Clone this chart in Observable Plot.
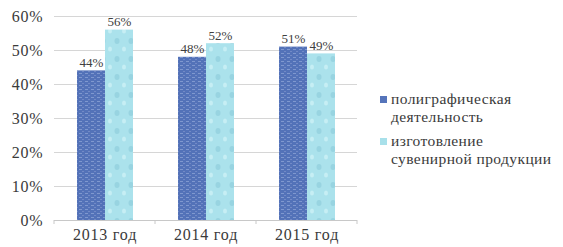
<!DOCTYPE html>
<html><head><meta charset="utf-8">
<script src="https://cdn.jsdelivr.net/npm/d3@7"></script>
<script src="https://cdn.jsdelivr.net/npm/@observablehq/plot@0.6"></script>
<style>
body{margin:0;background:#fff;}
#wrap{position:relative;width:563px;height:247px;font-family:"Liberation Serif","Times New Roman","DejaVu Serif",serif;}
#wrap svg, #wrap svg text{font-family:"Liberation Serif","Times New Roman","DejaVu Serif",serif !important;}
#legend{position:absolute;left:380px;top:90px;font-size:15.5px;letter-spacing:0.4px;color:#3a3a3a;line-height:18px;font-family:"Liberation Serif","DejaVu Serif",serif !important;}
.item{position:relative;padding-left:11px;margin-bottom:6px;}
.sw{position:absolute;left:0;top:6px;width:7px;height:7px;}
</style></head>
<body><div id="wrap"><div id="legend"></div></div>
<script>
const years = ["2013 год", "2014 год", "2015 год"];
const series = ["полиграфическая деятельность", "изготовление сувенирной продукции"];
const legendLines = [["полиграфическая", "деятельность"], ["изготовление", "сувенирной продукции"]];
const printing = [44, 48, 51];
const souvenirs = [56, 52, 49];
const yTicks = [0, 10, 20, 30, 40, 50, 60];
const colors = ["#5574ba", "#a8e0ea"];
const fills = ["url(#texDark)", "url(#texLight)"];
const FONT = "'Liberation Serif', 'Times New Roman', 'DejaVu Serif', serif";

const data = [];
years.forEach((y, i) => {
  data.push({year: y, s: series[0], v: printing[i]});
  data.push({year: y, s: series[1], v: souvenirs[i]});
});

const plot = Plot.plot({
  width: 563, height: 247,
  marginLeft: 53, marginRight: 205, marginTop: 16, marginBottom: 27,
  style: {fontFamily: FONT, background: "#fff", color: "#3a3a3a"},
  fx: {domain: years, padding: 0, label: null, axis: null},
  x: {domain: series, paddingInner: 0, paddingOuter: 0.76, axis: null},
  y: {domain: [0, 60], label: null, axis: null},
  color: {domain: series, range: fills},
  marks: [
    Plot.ruleY(yTicks.filter(d => d > 0), {stroke: "#d6d6d6", strokeWidth: 1}),
    Plot.ruleY([0], {stroke: "#c8c8c8", strokeWidth: 1}),
    Plot.barY(data, {fx: "year", x: "s", y: "v", fill: "s"}),
    Plot.text(data, {fx: "year", x: "s", y: "v", text: d => d.v + "%", dy: -8, fontSize: 13, fill: "#404040", fontFamily: FONT}),
    Plot.axisY({ticks: yTicks, tickFormat: d => d + "%", tickSize: 0, tickPadding: 11, fontSize: 16, label: null, fontFamily: FONT, fill: "#3a3a3a"}),
    Plot.axisFx({anchor: "bottom", tickSize: 0, tickPadding: 8, fontSize: 16, label: null, fontFamily: FONT, fill: "#3a3a3a"})
  ]
});
const wrap = document.getElementById("wrap");
wrap.insertBefore(plot, wrap.firstChild);

const svg = d3.select(plot);
svg.selectAll("g[aria-label='y-axis tick label'] text, g[aria-label='fx-axis tick label'] text").style("letter-spacing", "0.8px");

// textures for the bars
const defs = svg.insert("defs", ":first-child");
const pd = defs.append("pattern").attr("id", "texDark").attr("patternUnits", "userSpaceOnUse").attr("width", 6).attr("height", 4);
pd.append("rect").attr("width", 6).attr("height", 4).attr("fill", "#5372b8");
pd.append("rect").attr("x", 0).attr("y", 1).attr("width", 3).attr("height", 1).attr("fill", "#7f98cf");
pd.append("rect").attr("x", 3).attr("y", 3).attr("width", 2).attr("height", 1).attr("fill", "#7189c6");
const pl = defs.append("pattern").attr("id", "texLight").attr("patternUnits", "userSpaceOnUse").attr("width", 14).attr("height", 18);
pl.append("rect").attr("width", 14).attr("height", 18).attr("fill", "#abe2ec");
pl.append("ellipse").attr("cx", 4).attr("cy", 5).attr("rx", 2.5).attr("ry", 3).attr("fill", "#98d4e1");
pl.append("ellipse").attr("cx", 11).attr("cy", 13).attr("rx", 2).attr("ry", 2.5).attr("fill", "#c6eef4");

// boundary ticks along the baseline
const fx = plot.scale("fx"), y = plot.scale("y");
const bounds = years.map(d => fx.apply(d)).concat([fx.apply(years[2]) + fx.step]);
const y0 = y.apply(0);
svg.append("g").selectAll("line").data(bounds).join("line")
  .attr("x1", d => d).attr("x2", d => d)
  .attr("y1", y0).attr("y2", y0 + 4).attr("stroke", "#c8c8c8");

const lg = document.getElementById("legend");
legendLines.forEach((lines, i) => {
  const it = document.createElement("div");
  it.className = "item";
  it.innerHTML = `<span class="sw" style="background:${colors[i]}"></span>${lines.join("<br>")}`;
  lg.appendChild(it);
});
</script></body></html>
